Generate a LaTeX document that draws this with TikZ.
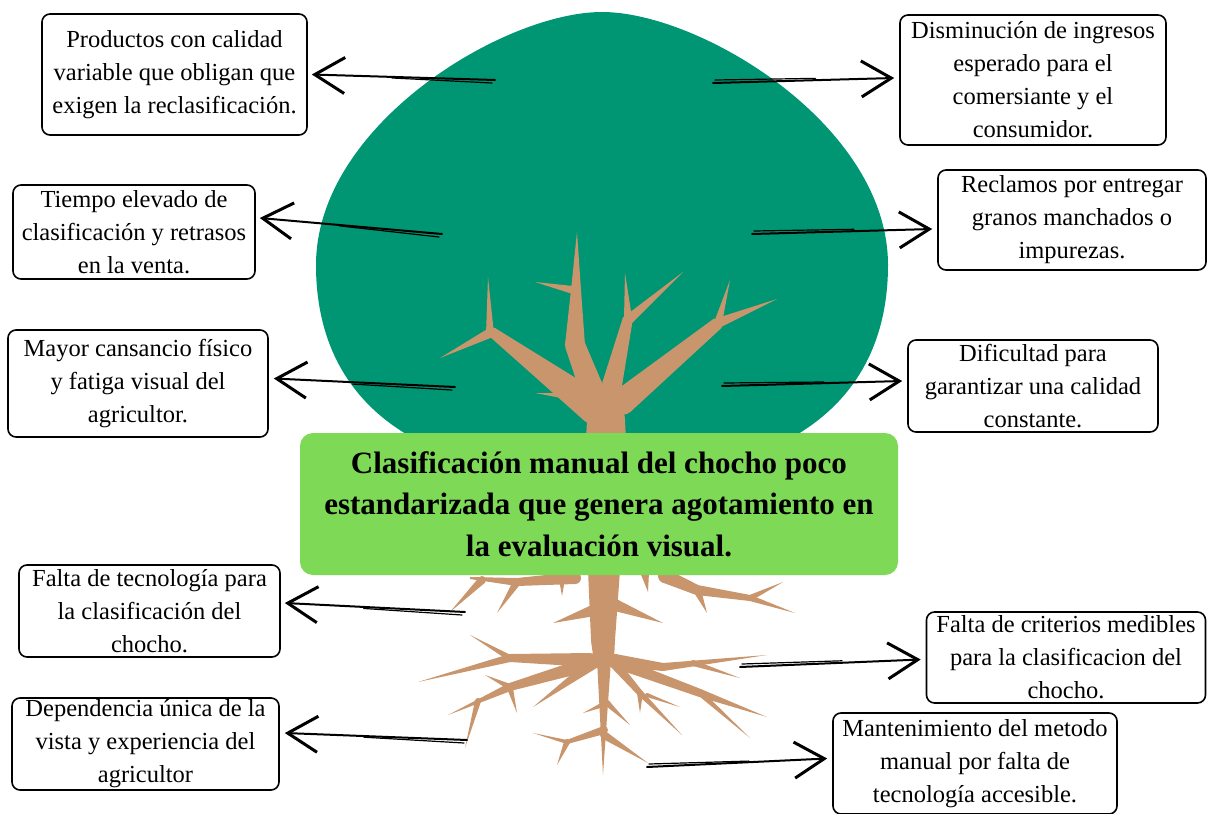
\documentclass[tikz,border=0pt]{standalone}
\usepackage{fontspec}
\setmainfont{Liberation Serif}
\usetikzlibrary{arrows.meta,calc}

\definecolor{canopy}{RGB}{0,150,115}
\definecolor{bark}{RGB}{200,149,108}
\definecolor{titlegreen}{RGB}{126,217,87}

% tapered limb from #1 (half width #3) to #2 (half width #4)
\newcommand\limb[4]{%
  \fill[bark] ($#1!#3pt!90:#2$) -- ($#2!#4pt!-90:#1$) -- ($#2!#4pt!90:#1$) -- ($#1!#3pt!-90:#2$) -- cycle;
  \fill[bark] #1 circle[radius=#3pt];
}

\tikzset{
  box/.style={draw=black, line width=1.6pt, rounded corners=8pt, fill=white,
    align=center, inner sep=0pt, font=\fontsize{24.5}{33}\selectfont},
  titlebox/.style={fill=titlegreen, rounded corners=13pt, align=center, inner sep=0pt,
    font=\bfseries\fontsize{31}{41.5}\selectfont},
  arrowline/.style={line width=2pt, line cap=round,
    -{Straight Barb[length=30pt,width=36pt,line width=3pt]}},
  sketch/.style={line width=1.2pt, line cap=round}
}

\begin{document}
\begin{tikzpicture}[x=1pt,y=-1pt]
\useasboundingbox (0,0) rectangle (1208,814);

% crown
\fill[canopy] (602,12) .. controls (700,12) and (888,125) .. (888,265)
  .. controls (888,400) and (790,478) .. (602,478)
  .. controls (414,478) and (316,400) .. (316,265)
  .. controls (316,125) and (504,12) .. (602,12) -- cycle;

% trunk and branches
\limb{(606,480)}{(606,420)}{22}{19}
\limb{(606,420)}{(607,388)}{19}{13}
\limb{(594,408)}{(492,332)}{16}{5}
\limb{(492,332)}{(440,358)}{5}{0}
\limb{(490,334)}{(488,277)}{4}{0}
\limb{(588,398)}{(535,393)}{5}{0}
\limb{(592,390)}{(575,345)}{12}{10}
\limb{(575,345)}{(576,290)}{10}{5}
\limb{(576,290)}{(577,232)}{5}{0}
\limb{(573,290)}{(535,282)}{4}{0}
\limb{(612,385)}{(628,318)}{10}{5}
\limb{(628,318)}{(625,273)}{4}{0}
\limb{(628,320)}{(683,272)}{5}{0}
\limb{(622,402)}{(718,323)}{13}{6}
\limb{(718,323)}{(730,280)}{4}{0}
\limb{(718,323)}{(777,299)}{5}{0}

% roots
\limb{(604,570)}{(603,640)}{16}{12}
\limb{(603,640)}{(604,662)}{12}{10}
\limb{(604,660)}{(603,775)}{7}{0}
\limb{(575,578)}{(517,582)}{6}{4}
\limb{(517,582)}{(470,578)}{4}{1}
\limb{(517,582)}{(497,613)}{4}{0}
\limb{(482,580)}{(450,612)}{4}{0}
\limb{(562,574)}{(562,596)}{4}{0}
\limb{(645,574)}{(648,592)}{4}{0}
\limb{(665,576)}{(697,590)}{7}{5}
\limb{(697,590)}{(750,598)}{5}{3}
\limb{(750,598)}{(795,613)}{3}{0}
\limb{(750,598)}{(783,582)}{3}{0}
\limb{(697,590)}{(707,613)}{4}{0}
\limb{(595,610)}{(553,623)}{6}{0}
\limb{(615,605)}{(663,623)}{6}{0}
\limb{(590,660)}{(510,658)}{7}{4}
\limb{(510,658)}{(418,682)}{4}{0}
\limb{(510,658)}{(470,635)}{3}{0}
\limb{(585,665)}{(510,687)}{7}{4}
\limb{(510,687)}{(448,715)}{4}{0}
\limb{(510,687)}{(485,675)}{3}{0}
\limb{(510,688)}{(517,713)}{3}{0}
\limb{(478,701)}{(465,748)}{3}{0}
\limb{(595,662)}{(533,707)}{6}{0}
\limb{(607,703)}{(583,713)}{3}{0}
\limb{(607,703)}{(630,725)}{3}{0}
\limb{(604,730)}{(567,742)}{4}{2}
\limb{(567,742)}{(533,733)}{2}{0}
\limb{(567,742)}{(557,765)}{3}{0}
\limb{(604,735)}{(648,763)}{4}{0}
\limb{(615,660)}{(663,667)}{6}{4}
\limb{(663,667)}{(767,655)}{4}{0}
\limb{(693,663)}{(740,678)}{3}{0}
\limb{(618,663)}{(700,693)}{6}{4}
\limb{(700,693)}{(767,717)}{4}{0}
\limb{(700,693)}{(750,738)}{3}{0}
\limb{(613,662)}{(640,693)}{5}{3}
\limb{(640,693)}{(682,735)}{3}{0}
\limb{(640,693)}{(640,713)}{3}{0}
\limb{(647,695)}{(680,707)}{2}{0}

% central problem
\node[titlebox, minimum width=598pt, minimum height=142pt] (title) at (599,504)
  {Clasificación manual del chocho poco\\estandarizada que genera agotamiento en\\la evaluación visual.};

% effects
\node[box, minimum width=265pt, minimum height=121pt] (b1) at (174.5,74.5)
  {Productos con calidad\\variable que obligan que\\exigen la reclasificación.};
\node[box, minimum width=266pt, minimum height=130pt] (b2) at (1033,80)
  {Disminución de ingresos\\esperado para el\\comersiante y el\\consumidor.};
\node[box, minimum width=242pt, minimum height=94pt] (b3) at (134,232)
  {Tiempo elevado de\\clasificación y retrasos\\en la venta.};
\node[box, minimum width=268pt, minimum height=100pt] (b4) at (1072,220)
  {Reclamos por entregar\\granos manchados o\\impurezas.};
\node[box, minimum width=260pt, minimum height=107pt] (b5) at (138,383.5)
  {Mayor cansancio físico\\y fatiga visual del\\agricultor.};
\node[box, minimum width=250pt, minimum height=92pt] (b6) at (1033,386)
  {Dificultad para\\garantizar una calidad\\constante.};

% causes
\node[box, minimum width=261pt, minimum height=92pt] (b8) at (149.5,611)
  {Falta de tecnología para\\la clasificación del\\chocho.};
\node[box, minimum width=279pt, minimum height=91pt] (b9) at (1066,657.5)
  {Falta de criterios medibles\\para la clasificacion del\\chocho.};
\node[box, minimum width=267pt, minimum height=92pt] (b10) at (145.5,744)
  {Dependencia única de la\\vista y experiencia del\\agricultor};
\node[box, minimum width=284pt, minimum height=101pt] (b11) at (975,763.5)
  {Mantenimiento del metodo\\manual por falta de\\tecnología accesible.};

% arrow origins
\coordinate (s1) at (495,80);
\coordinate (s2) at (713,83);
\coordinate (s3) at (442,234);
\coordinate (s4) at (752,234);
\coordinate (s5) at (455,387);
\coordinate (s6) at (722,386);
\coordinate (s7) at (465,612);
\coordinate (s8) at (740,667);
\coordinate (s9) at (467,740);
\coordinate (s10) at (647,767);

% hand-drawn arrows
\draw[arrowline] (s1) -- ($(b1.east)+(4,0)$);
\draw[sketch] ($(s1)+(-3,3)$) -- ($(s1)!0.55!(b1.east)+(0,1)$);
\draw[arrowline] (s2) -- ($(b2.west)+(-5,-2)$);
\draw[sketch] ($(s2)+(2,-3)$) -- ($(s2)!0.55!(b2.west)+(0,-3)$);
\draw[arrowline] (s3) -- ($(b3.east)+(4,-14)$);
\draw[sketch] ($(s3)+(-3,3)$) -- ($(s3)!0.55!(b3.east)+(0,-7)$);
\draw[arrowline] (s4) -- ($(b4.west)+(-5,9)$);
\draw[sketch] ($(s4)+(2,-3)$) -- ($(s4)!0.55!(b4.west)+(0,3)$);
\draw[arrowline] (s5) -- ($(b5.east)+(5,-5)$);
\draw[sketch] ($(s5)+(-3,3)$) -- ($(s5)!0.55!(b5.east)+(0,-1)$);
\draw[arrowline] (s6) -- ($(b6.west)+(-5,-5)$);
\draw[sketch] ($(s6)+(2,-3)$) -- ($(s6)!0.55!(b6.west)+(0,-4)$);
\draw[arrowline] (s7) -- ($(b8.east)+(4,-8)$);
\draw[sketch] ($(s7)+(-3,3)$) -- ($(s7)!0.55!(b8.east)+(0,-3)$);
\draw[arrowline] (s8) -- ($(b9.west)+(-5,2)$);
\draw[sketch] ($(s8)+(2,-3)$) -- ($(s8)!0.55!(b9.west)+(0,-1)$);
\draw[arrowline] (s9) -- ($(b10.east)+(5,-11)$);
\draw[sketch] ($(s9)+(-3,3)$) -- ($(s9)!0.55!(b10.east)+(0,-5)$);
\draw[arrowline] (s10) -- ($(b11.west)+(-5,-5)$);
\draw[sketch] ($(s10)+(2,-3)$) -- ($(s10)!0.55!(b11.west)+(0,-4)$);
\end{tikzpicture}
\end{document}
